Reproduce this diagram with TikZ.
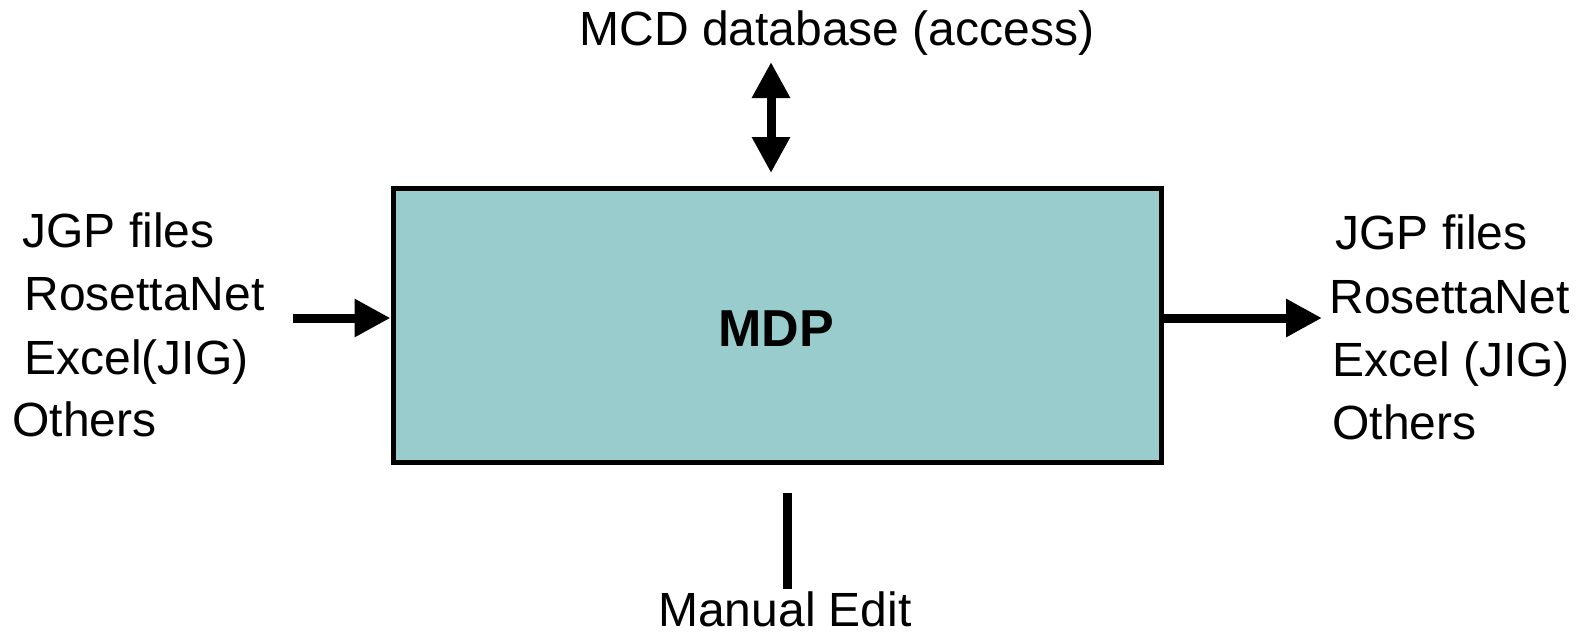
\documentclass[tikz,border=0pt]{standalone}
\usepackage{fontspec}
\setmainfont{Liberation Sans}
\usetikzlibrary{arrows.meta}

\tikzset{
    label text/.style={font=\fontsize{24}{28}\selectfont, inner sep=0pt},
    flow/.style={line width=4.5pt, -{Triangle[length=18pt,width=18pt]}},
}

\begin{document}
\begin{tikzpicture}[x=0.5pt, y=-0.5pt]
    %% canvas
    \useasboundingbox (0,0) rectangle (1579,634);

    %% main box
    \node[draw, line width=2.5pt, fill={rgb,255:red,153;green,204;blue,204},
          minimum width=384pt, minimum height=137pt, inner sep=0pt]
          (mdp) at (777,325) {};
    \node[font=\bfseries\fontsize{26}{30}\selectfont, anchor=base, inner sep=0pt]
          (mdplabel) at (776,346) {MDP};

    %% inputs
    \node[label text, anchor=base west] (injgp) at (22,247) {JGP files};
    \node[label text, anchor=base west] (inrosetta) at (24,310) {RosettaNet};
    \node[label text, anchor=base west] (inexcel) at (24,374) {Excel(JIG)};
    \node[label text, anchor=base west] (inothers) at (12,436) {Others};

    %% outputs
    \node[label text, anchor=base west] (outjgp) at (1335,249) {JGP files};
    \node[label text, anchor=base west] (outrosetta) at (1329,313) {RosettaNet};
    \node[label text, anchor=base west] (outexcel) at (1332,376) {Excel (JIG)};
    \node[label text, anchor=base west] (outothers) at (1332,439) {Others};

    %% database and manual edit
    \node[label text, anchor=base] (mcd) at (837,45) {MCD database (access)};
    \node[label text, anchor=base] (manual) at (785,626) {Manual Edit};

    %% connectors
    \coordinate (instart) at (293,318);
    \coordinate (outend) at (1322,318);
    \coordinate (dbtop) at (771,62);
    \coordinate (dbbot) at (771,173);
    \coordinate (edittop) at (787,493);
    \coordinate (editbot) at (787,589);

    \draw[flow] (instart) -- (instart -| mdp.west);
    \draw[flow] (outend -| mdp.east) -- (outend);
    \draw[flow, {Triangle[length=18pt,width=18pt]}-{Triangle[length=18pt,width=18pt]}] (dbtop) -- (dbbot);
    \draw[line width=4.5pt] (edittop) -- (editbot);
\end{tikzpicture}
\end{document}
